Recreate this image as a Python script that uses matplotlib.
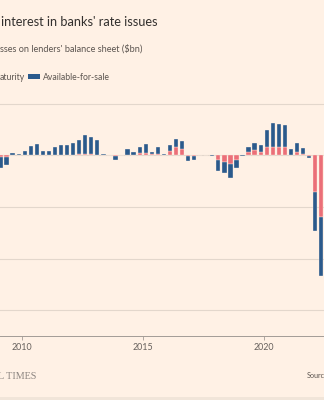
import matplotlib
matplotlib.use('Agg')
from matplotlib import pyplot as plt
from matplotlib.patches import Rectangle

# 季度未实现损益（十亿美元），2009Q1 - 2022Q2
quarters = [f'{y}Q{q}' for y in range(2009, 2023) for q in range(1, 5)][:54]
htm = [-8, -6, 1, 1, 1, 2, 2, 1, 1, 2, 2, 2, 2, 3, 3, 3,
       2, 1, 0.5, -5, 1, 2, 1, 8, 9, 5, 6, 1, 17, 30, 23, -4,
       -3, 0.5, 1, -1, -20, -25, -34, -20, -1, 12, 21, 14, 31, 31, 31, 31,
       2, 14, 3, -4, -143, -240]
afs = [-42, -33, 9, 4, 17, 34, 42, 16, 16, 29, 38, 38, 46, 54, 74, 67,
       57, 2, 1.5, -14, 1, 23, 13, 23, 36, 9, 24, 2, 23, 32, 32, -18,
       -14, 0.5, 1, -2, -40, -45, -53, -30, -1, 19, 25, 26, 67, 95, 91, 86,
       21, 32, 24, -5, -152, -229]
xticks = [2010, 2015, 2020]
yticks = [200, 0, -200, -400, -600]

bg = '#FFF1E5'
blue = '#2B5A8C'
red = '#EB6F78'

W, H = 324, 400
fig = plt.figure(figsize=(W / 100, H / 100), dpi=100, facecolor=bg)


def px(x, y):
    return x / W, 1 - y / H


ax = fig.add_axes([0, 0.16, 1, 0.6135])
ax.set_facecolor(bg)

# 季度中点作为横坐标
xs = [int(s[:4]) + (int(s[-1]) - 0.5) / 4 for s in quarters]
ax.bar(xs, htm, width=0.178, color=red, edgecolor=bg, linewidth=0.25, zorder=3)
ax.bar(xs, afs, width=0.178, bottom=htm, color=blue, edgecolor=bg, linewidth=0.25, zorder=3)

ax.set_xlim(2009.103, 2022.492)
ax.set_ylim(-700, 250)
ax.set_yticks(yticks)
ax.set_yticklabels([])
ax.tick_params(axis='y', length=0)
ax.grid(axis='y', color='#E3D7CC', linewidth=0.8, zorder=0)
ax.set_xticks(xticks)
ax.set_xticklabels([str(t) for t in xticks], fontsize=6.4, color='#66605C', family='Lato')
ax.tick_params(axis='x', length=3, width=0.6, color='#A39C96', pad=2)
for s in ['top', 'left', 'right']:
    ax.spines[s].set_visible(False)
ax.spines['bottom'].set_color('#A39C96')
ax.spines['bottom'].set_linewidth(0.7)

# 标题、副标题、图例
fig.text(*px(1, 25.5), "interest in banks' rate issues", fontsize=9.2,
         color='#33302E', family='Lato', va='baseline')
fig.text(*px(0, 51.5), "sses on lenders' balance sheet ($bn)", fontsize=6.6,
         color='#5C5550', family='Lato', va='baseline')
fig.text(*px(0, 80), 'aturity', fontsize=6.2, color='#5C5550', family='Lato', va='baseline')
fig.patches.append(Rectangle(px(28.3, 79), 11.7 / W, 4.7 / H, transform=fig.transFigure,
                             facecolor=blue, edgecolor='none'))
fig.text(*px(42.7, 80), 'Available-for-sale', fontsize=6.2, color='#5C5550',
         family='Lato', va='baseline')

# 底部署名与来源
fig.text(*px(-1.5, 379), 'L TIMES', fontsize=7.3, color='#8C8580',
         family='Liberation Serif', va='baseline')
fig.text(*px(307, 378.5), 'Sourc', fontsize=5.2, color='#5C5550', family='Lato', va='baseline')
fig.patches.append(Rectangle((0, 0), 1, 3 / H, transform=fig.transFigure,
                             facecolor='#F1E5D9', edgecolor='none'))

fig.savefig('out.png', dpi=100, facecolor=bg)
